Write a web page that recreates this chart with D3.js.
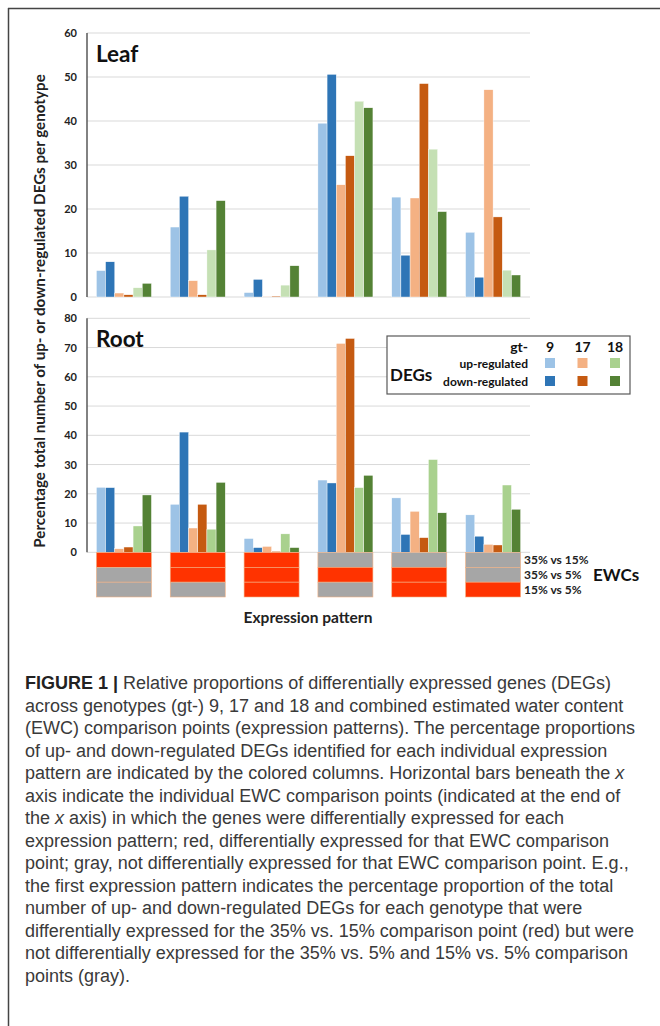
<!DOCTYPE html>
<html><head><meta charset="utf-8">
<script src="https://cdnjs.cloudflare.com/ajax/libs/d3/7.8.5/d3.min.js"></script>
<style>body{margin:0;background:#fff;}svg{display:block;}</style>
</head><body>
<script>
// ---------- DATA ----------
const patterns = ["P1","P2","P3","P4","P5","P6"];
const seriesKeys = ["gt9 up","gt9 down","gt17 up","gt17 down","gt18 up","gt18 down"];
const genotypes = ["9","17","18"];
const leafTicks = [0,10,20,30,40,50,60];
const rootTicks = [0,10,20,30,40,50,60,70,80];

const leafGt9Up    = [6.0, 15.9, 1.0, 39.5, 22.7, 14.7];
const leafGt9Down  = [8.0, 22.9, 4.0, 50.6, 9.5, 4.5];
const leafGt17Up   = [0.9, 3.7, 0.1, 25.5, 22.5, 47.1];
const leafGt17Down = [0.5, 0.5, 0.2, 32.1, 48.5, 18.2];
const leafGt18Up   = [2.1, 10.7, 2.7, 44.5, 33.6, 6.1];
const leafGt18Down = [3.1, 21.9, 7.1, 43.0, 19.4, 5.0];

const rootGt9Up    = [22.2, 16.4, 4.7, 24.7, 18.6, 12.8];
const rootGt9Down  = [22.1, 41.1, 1.6, 23.7, 6.1, 5.5];
const rootGt17Up   = [1.2, 8.3, 2.0, 71.4, 14.0, 2.7];
const rootGt17Down = [1.8, 16.4, 0.3, 73.1, 5.0, 2.5];
const rootGt18Up   = [9.0, 7.9, 6.3, 22.1, 31.7, 23.0];
const rootGt18Down = [19.6, 23.9, 1.6, 26.3, 13.5, 14.7];

// EWC comparison points: 1 = differentially expressed (red), 0 = not (gray)
const ewcLabels = ["35% vs 15%","35% vs 5%","15% vs 5%"];
const ewc35v15 = [1,1,1,0,0,0];
const ewc35v5  = [0,1,1,1,1,0];
const ewc15v5  = [0,0,1,0,1,1];

const captionLines = [
 [["b","FIGURE 1 | "],["n","Relative proportions of differentially expressed genes (DEGs)"]],
 [["n","across genotypes (gt-) 9, 17 and 18 and combined estimated water content"]],
 [["n","(EWC) comparison points (expression patterns). The percentage proportions"]],
 [["n","of up- and down-regulated DEGs identified for each individual expression"]],
 [["n","pattern are indicated by the colored columns. Horizontal bars beneath the "],["i","x"]],
 [["n","axis indicate the individual EWC comparison points (indicated at the end of"]],
 [["n","the "],["i","x"],["n"," axis) in which the genes were differentially expressed for each"]],
 [["n","expression pattern; red, differentially expressed for that EWC comparison"]],
 [["n","point; gray, not differentially expressed for that EWC comparison point. E.g.,"]],
 [["n","the first expression pattern indicates the percentage proportion of the total"]],
 [["n","number of up- and down-regulated DEGs for each genotype that were"]],
 [["n","differentially expressed for the 35% vs. 15% comparison point (red) but were"]],
 [["n","not differentially expressed for the 35% vs. 5% and 15% vs. 5% comparison"]],
 [["n","points (gray)."]]
];

// ---------- STYLE ----------
const FONT = "Lato, 'Open Sans', sans-serif";
const leafColors = ["#9DC3E6","#2E75B6","#F4B183","#C55A11","#C5E0B4","#548235"];
const rootColors = ["#9DC3E6","#2E75B6","#F4B183","#C55A11","#A9D18E","#548235"];

const W = 660, H = 1026;
const svg = d3.select("body").append("svg").attr("width",W).attr("height",H);

// frame
svg.append("line").attr("x1",8).attr("x2",W).attr("y1",8.5).attr("y2",8.5).attr("stroke","#444").attr("stroke-width",1.5);
svg.append("line").attr("x1",8.5).attr("x2",8.5).attr("y1",8).attr("y2",H).attr("stroke","#444").attr("stroke-width",1.5);

const x0 = d3.scaleBand().domain(patterns).range([87,530]).paddingInner(0.255).paddingOuter(0.1275);
const x1 = d3.scaleBand().domain(seriesKeys).range([0,x0.bandwidth()]);

function panel(vals, colors, yTop, yBottom, ticks, title){
  const y = d3.scaleLinear().domain([0,d3.max(ticks)]).range([yBottom,yTop]);
  const g = svg.append("g");
  g.selectAll("line.grid").data(ticks).join("line")
    .attr("x1",87).attr("x2",530).attr("y1",d=>y(d)).attr("y2",d=>y(d))
    .attr("stroke","#d9d9d9").attr("stroke-width",1);
  const ax = d3.axisLeft(y).tickValues(ticks).tickSize(0).tickPadding(10);
  const axg = g.append("g").attr("transform","translate(87,0)").call(ax);
  axg.select(".domain").remove();
  axg.selectAll("text").attr("font-family",FONT).attr("font-weight","bold").attr("font-size",11).attr("fill","#222");
  patterns.forEach((p,i)=>{
    seriesKeys.forEach((s,j)=>{
      g.append("rect").attr("x",x0(p)+x1(s)).attr("width",x1.bandwidth())
        .attr("y",y(vals[j][i])).attr("height",yBottom-y(vals[j][i]))
        .attr("fill",colors[j]).attr("stroke","#fff").attr("stroke-width",0.4);
    });
  });
  g.append("line").attr("x1",87).attr("x2",87).attr("y1",yTop).attr("y2",yBottom).attr("stroke","#595959").attr("stroke-width",1.5);
  g.append("text").attr("x",96).attr("y",yTop+29).text(title)
    .attr("font-family",FONT).attr("font-weight","bold").attr("font-size",22.5).attr("fill","#111");
  return y;
}

panel([leafGt9Up,leafGt9Down,leafGt17Up,leafGt17Down,leafGt18Up,leafGt18Down], leafColors, 33, 297, leafTicks, "Leaf");
panel([rootGt9Up,rootGt9Down,rootGt17Up,rootGt17Down,rootGt18Up,rootGt18Down], rootColors, 318.3, 552.3, rootTicks, "Root");

// EWC blocks
const ewcRows = [ewc35v15, ewc35v5, ewc15v5];
const rowY = d3.scaleBand().domain([0,1,2]).range([552.5,597]);
ewcRows.forEach((row,r)=>{
  patterns.forEach((p,i)=>{
    svg.append("rect").attr("x",x0(p)).attr("width",x0.bandwidth())
      .attr("y",rowY(r)).attr("height",rowY.bandwidth())
      .attr("fill",row[i]?"#FF3300":"#A6A6A6").attr("stroke","#F4B183").attr("stroke-width",0.6);
  });
  svg.append("text").attr("x",524).attr("y",rowY(r)+rowY.bandwidth()/2+4.5).text(ewcLabels[r])
    .attr("font-family",FONT).attr("font-weight","bold").attr("font-size",12).attr("fill","#222");
});
svg.append("text").attr("x",593).attr("y",581).text("EWCs")
  .attr("font-family",FONT).attr("font-weight","bold").attr("font-size",17).attr("fill","#111");

// axis titles
svg.append("text").attr("x",308).attr("y",623).attr("text-anchor","middle").text("Expression pattern")
  .attr("font-family",FONT).attr("font-weight","bold").attr("font-size",15.5).attr("fill","#222");
svg.append("text").attr("transform","translate(45,311) rotate(-90)").attr("text-anchor","middle")
  .text("Percentage total number of up- or down-regulated DEGs per genotype")
  .attr("font-family",FONT).attr("font-weight","bold").attr("font-size",15.2).attr("fill","#222");

// legend
const lg = svg.append("g");
lg.append("rect").attr("x",387).attr("y",336).attr("width",243).attr("height",58).attr("fill","#fff").attr("stroke","#595959").attr("stroke-width",1.2);
const gx = d3.scalePoint().domain(genotypes).range([550,615]);
lg.append("text").attr("x",528).attr("y",352).attr("text-anchor","end").text("gt-")
  .attr("font-family",FONT).attr("font-weight","bold").attr("font-size",14).attr("fill","#111");
genotypes.forEach((gname,k)=>{
  lg.append("text").attr("x",gx(gname)).attr("y",352).attr("text-anchor","middle").text(gname)
    .attr("font-family",FONT).attr("font-weight","bold").attr("font-size",14).attr("fill","#111");
  lg.append("rect").attr("x",gx(gname)-5).attr("y",358).attr("width",10).attr("height",10).attr("fill",rootColors[k*2]);
  lg.append("rect").attr("x",gx(gname)-5).attr("y",376).attr("width",10).attr("height",10).attr("fill",rootColors[k*2+1]);
});
lg.append("text").attr("x",528).attr("y",368).attr("text-anchor","end").text("up-regulated")
  .attr("font-family",FONT).attr("font-weight","bold").attr("font-size",12).attr("fill","#111");
lg.append("text").attr("x",528).attr("y",386).attr("text-anchor","end").text("down-regulated")
  .attr("font-family",FONT).attr("font-weight","bold").attr("font-size",12).attr("fill","#111");
lg.append("text").attr("x",390).attr("y",381).text("DEGs")
  .attr("font-family",FONT).attr("font-weight","bold").attr("font-size",17).attr("fill","#111");

// caption
const cap = svg.append("g");
captionLines.forEach((line,i)=>{
  const t = cap.append("text").attr("x",25).attr("y",689+i*22.5)
    .attr("font-family","'Liberation Sans', Arial, sans-serif").attr("font-size",18).attr("fill","#3a3a3a");
  line.forEach(([kind,str])=>{
    const ts = t.append("tspan").text(str);
    if(kind==="b") ts.attr("font-weight","bold").attr("fill","#222");
    if(kind==="i") ts.attr("font-style","italic");
  });
});
</script>
</body></html>
